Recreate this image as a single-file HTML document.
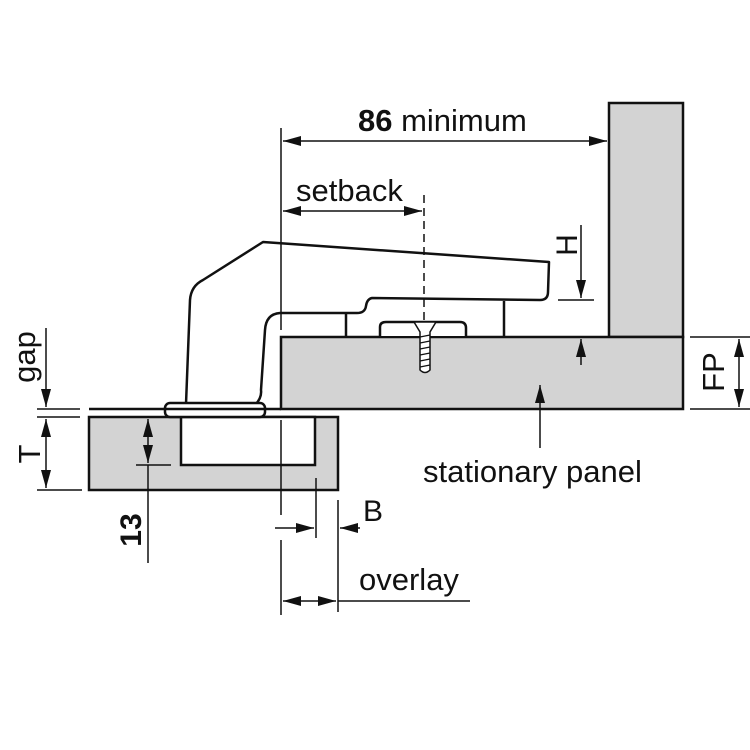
<!DOCTYPE html>
<html><head><style>body{margin:0;background:#fff}svg{display:block}text{font-family:"Liberation Sans",Arial,sans-serif;fill:#111}</style></head>
<body>
<svg width="750" height="750" viewBox="0 0 750 750" xmlns="http://www.w3.org/2000/svg">
<defs>
<marker id="m" viewBox="0 0 18 12" refX="18" refY="6" markerWidth="18" markerHeight="12" markerUnits="userSpaceOnUse" orient="auto-start-reverse"><path d="M0,1 L18,6 L0,11 Z" fill="#111"/></marker>
</defs>
<g stroke="#111" stroke-width="2.5" fill="#d3d3d3">
<rect x="609" y="103" width="74" height="234"/>
<rect x="281" y="337" width="402" height="72"/>
<rect x="89" y="417" width="249" height="73"/>
<rect x="181" y="417" width="134" height="48" fill="#fff"/>
</g>
<g stroke="#111" stroke-width="2.5" fill="#fff" stroke-linejoin="round">
<path d="M186,404 L190,300 Q191,286 203,280 L263,242 L549,262 L548,292 Q548,300 540,300 L372,298 Q367,299 366,306 Q365,313 357,313 L280,313 Q266,314 265,330 L261,390 Q262,398 255,405 L250,412"/>
<path d="M346,313 L346,336"/><path d="M504,301 L504,336"/>
<path d="M380,336 L380,327 Q380,322 386,322 L460,322 Q466,322 466,328 L466,336"/>
<rect x="165" y="403" width="100" height="14" rx="5"/>
</g>
<line x1="89" y1="409" x2="281" y2="409" stroke="#111" stroke-width="2.5"/>
<path d="M414,322 L436,322 L430,332 L430,370 Q425,375 420,370 L420,332 Z" fill="#fff" stroke="#111" stroke-width="1.5"/>
<g stroke="#111" stroke-width="1.2"><line x1="420" y1="337" x2="430" y2="335"/><line x1="420" y1="343" x2="430" y2="341"/><line x1="420" y1="349" x2="430" y2="347"/><line x1="420" y1="355" x2="430" y2="353"/><line x1="420" y1="361" x2="430" y2="359"/><line x1="420" y1="367" x2="430" y2="365"/></g>
<g stroke="#111" stroke-width="1.5" fill="none">
<line x1="281" y1="128" x2="281" y2="330"/>
<line x1="281" y1="420" x2="281" y2="515"/>
<line x1="424" y1="195" x2="424" y2="320" stroke-dasharray="8,5"/>
<line x1="283" y1="141" x2="607" y2="141" marker-start="url(#m)" marker-end="url(#m)"/>
<line x1="283" y1="211" x2="422" y2="211" marker-start="url(#m)" marker-end="url(#m)"/>
<line x1="581" y1="225" x2="581" y2="298" marker-end="url(#m)"/>
<line x1="558" y1="300" x2="594" y2="300"/>
<line x1="581" y1="365" x2="581" y2="339" marker-end="url(#m)"/>
<line x1="540" y1="448" x2="540" y2="385" marker-end="url(#m)"/>
<line x1="690" y1="337" x2="750" y2="337"/><line x1="690" y1="409" x2="750" y2="409"/>
<line x1="739" y1="339" x2="739" y2="407" marker-start="url(#m)" marker-end="url(#m)"/>
<line x1="46" y1="328" x2="46" y2="407" marker-end="url(#m)"/>
<line x1="37" y1="409" x2="80" y2="409"/><line x1="37" y1="417" x2="80" y2="417"/>
<line x1="46" y1="419" x2="46" y2="488" marker-start="url(#m)" marker-end="url(#m)"/>
<line x1="37" y1="490" x2="82" y2="490"/>
<line x1="148" y1="419" x2="148" y2="463" marker-start="url(#m)" marker-end="url(#m)"/>
<line x1="148" y1="465" x2="148" y2="563"/>
<line x1="136" y1="465" x2="171" y2="465"/>
<line x1="316" y1="478" x2="316" y2="538"/>
<line x1="338" y1="500" x2="338" y2="612"/>
<line x1="281" y1="540" x2="281" y2="615"/>
<line x1="275" y1="528" x2="314" y2="528" marker-end="url(#m)"/>
<line x1="360" y1="528" x2="340" y2="528" marker-end="url(#m)"/>
<line x1="283" y1="601" x2="336" y2="601" marker-start="url(#m)" marker-end="url(#m)"/>
<line x1="338" y1="601" x2="470" y2="601"/>
</g>
<text x="358" y="131" font-size="31"><tspan font-weight="bold">86</tspan> minimum</text>
<text x="296" y="201" font-size="31">setback</text>
<text x="423" y="482" font-size="31">stationary panel</text>
<text x="363" y="521" font-size="30">B</text>
<text x="359" y="590" font-size="31">overlay</text>
<text transform="translate(35,357) rotate(-90)" text-anchor="middle" font-size="31">gap</text>
<text transform="translate(40,454) rotate(-90)" text-anchor="middle" font-size="31">T</text>
<text transform="translate(141,530) rotate(-90)" text-anchor="middle" font-size="30" font-weight="bold">13</text>
<text transform="translate(724,372) rotate(-90)" text-anchor="middle" font-size="31">FP</text>
<text transform="translate(577,245) rotate(-90)" text-anchor="middle" font-size="30">H</text>
</svg>
</body></html>
